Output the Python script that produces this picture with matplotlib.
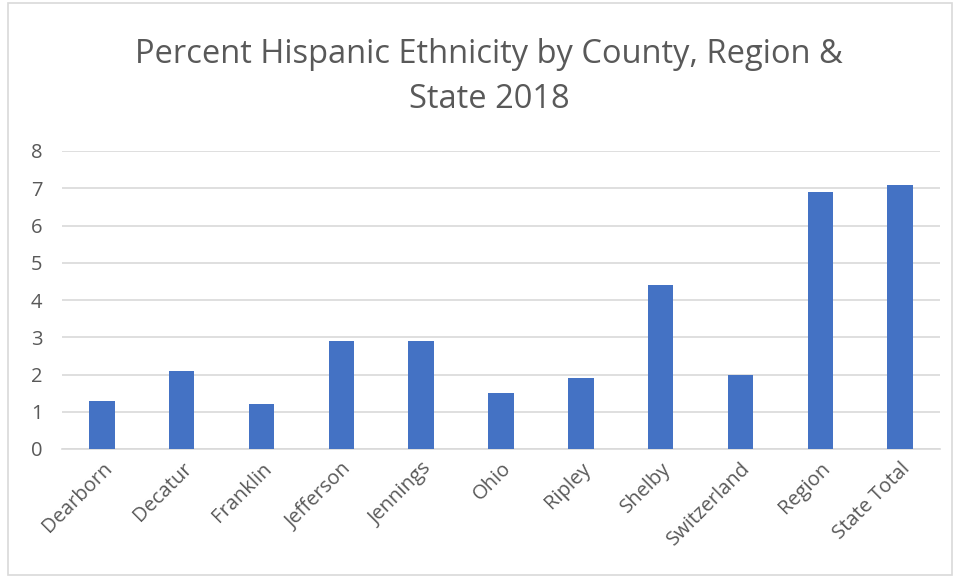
import matplotlib
matplotlib.use("Agg")
import matplotlib.pyplot as plt
from matplotlib.patches import Rectangle

# Percent Hispanic ethnicity, 2018
counties = ["Dearborn", "Decatur", "Franklin", "Jefferson", "Jennings", "Ohio",
            "Ripley", "Shelby", "Switzerland", "Region", "State Total"]
percent = [1.3, 2.1, 1.2, 2.9, 2.9, 1.5, 1.9, 4.4, 2.0, 6.9, 7.1]
yticks = [0, 1, 2, 3, 4, 5, 6, 7, 8]

TEXT = "#595959"
BAR = "#4472C4"
GRID = "#D9D9D9"

plt.rcParams["font.family"] = ["Open Sans", "DejaVu Sans"]

fig = plt.figure(figsize=(9.56, 5.78), dpi=100)
# outer chart border
fig.patches.append(Rectangle((8 / 956, 3 / 578), 944 / 956, 572 / 578,
                             transform=fig.transFigure, fill=False,
                             edgecolor=GRID, linewidth=1.2))

ax = fig.add_axes([62 / 956, 1 - 449 / 578, 878 / 956, 298 / 578])
x = list(range(len(counties)))
ax.bar(x, percent, width=0.32, color=BAR, zorder=3)

ax.set_xlim(-0.5, len(counties) - 0.5)
ax.set_ylim(0, 8)
ax.set_yticks(yticks)
ax.set_yticklabels([str(t) for t in yticks], fontsize=14.5, color=TEXT)
ax.set_xticks(x)
ax.set_xticklabels(counties, rotation=45, ha="right", rotation_mode="anchor",
                   fontsize=14.5, color=TEXT)
ax.tick_params(axis="both", length=0)
ax.tick_params(axis="y", pad=14)
ax.tick_params(axis="x", pad=7)
ax.grid(axis="y", color=GRID, linewidth=1.2, zorder=0)
for side in ["top", "right", "left"]:
    ax.spines[side].set_visible(False)
ax.spines["bottom"].set_color(GRID)
ax.spines["bottom"].set_linewidth(1.2)

fig.text(489 / 956, 1 - 77 / 578,
         "Percent Hispanic Ethnicity by County, Region &\nState 2018",
         ha="center", va="center", fontsize=23.5, color=TEXT, linespacing=1.45)

fig.savefig("out.png", dpi=100)
